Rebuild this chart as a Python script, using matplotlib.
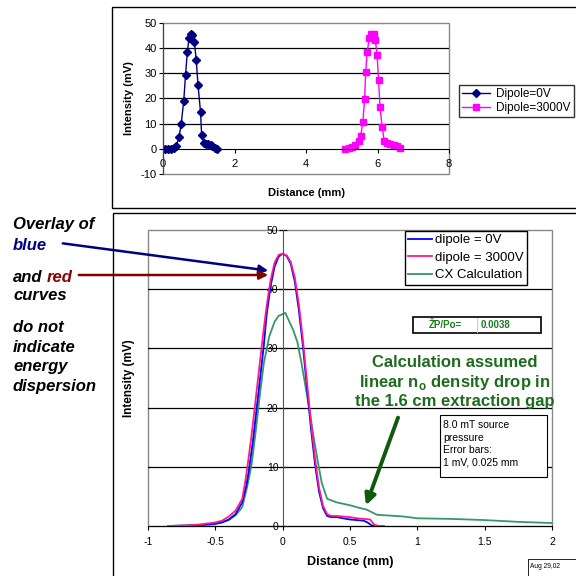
import matplotlib
matplotlib.use("Agg")
import matplotlib.pyplot as plt
from matplotlib.patches import Rectangle, FancyArrowPatch

plt.rcParams['font.family'] = ['Liberation Sans', 'DejaVu Sans']
plt.rcParams['axes.unicode_minus'] = False

# top chart: raw scans, 3000V scan offset in distance
top_x0 = [-0.05, 0.05, 0.14, 0.23, 0.30, 0.37, 0.45, 0.51, 0.58, 0.63, 0.68, 0.73, 0.77,
          0.82, 0.88, 0.93, 0.98, 1.05, 1.08, 1.14, 1.20, 1.26, 1.33, 1.38, 1.45, 1.50]
top_y0 = [0, 0, 0, 0, 0.2, 1.2, 4.8, 10, 19, 29.3, 38.3, 44.2, 45.7,
          45.3, 42.3, 35.2, 25.2, 14.6, 5.6, 2.2, 2.0, 1.8, 1.6, 1.0, 0.4, 0]
top_x3 = [5.09, 5.19, 5.28, 5.37, 5.47, 5.53, 5.59, 5.64, 5.67, 5.71, 5.77, 5.82,
          5.89, 5.94, 5.99, 6.03, 6.07, 6.13, 6.19, 6.26, 6.36, 6.45, 6.54, 6.62]
top_y3 = [0, 0.2, 0.6, 1.4, 3.3, 5.1, 10.6, 19.7, 30.7, 38.3, 44.2, 45.8,
          45.7, 43.2, 37.1, 27.2, 16.7, 8.8, 3.0, 2.2, 2.0, 1.7, 1.2, 0.5]

# bottom chart: overlaid scans and CX calculation
d0_x = [-0.85, -0.7, -0.6, -0.5, -0.45, -0.4, -0.35, -0.3, -0.27, -0.25, -0.22, -0.2, -0.17,
        -0.14, -0.12, -0.09, -0.06, -0.03, 0, 0.03, 0.06, 0.09, 0.12, 0.15, 0.18, 0.21,
        0.24, 0.27, 0.3, 0.33, 0.36, 0.4, 0.45, 0.5, 0.55, 0.6, 0.63, 0.66, 0.7, 0.75]
d0_y = [0, 0.1, 0.2, 0.4, 0.6, 1.1, 2.0, 4.0, 6.8, 9.5, 14.5, 18.5, 24.5,
        30.5, 35.5, 40.5, 43.8, 45.5, 46, 45.6, 44.3, 41.3, 36.5, 30.5, 23.5, 16.5,
        10.5, 5.8, 3.0, 1.7, 1.5, 1.5, 1.3, 1.1, 1.0, 0.9, 0.6, 0.1, 0, 0]
d3_x = [-0.85, -0.7, -0.6, -0.5, -0.45, -0.4, -0.35, -0.3, -0.28, -0.26, -0.23, -0.21, -0.18,
        -0.15, -0.12, -0.09, -0.06, -0.03, 0, 0.03, 0.06, 0.09, 0.12, 0.15, 0.18, 0.21,
        0.24, 0.27, 0.3, 0.33, 0.36, 0.4, 0.45, 0.5, 0.55, 0.6, 0.65, 0.68, 0.72, 0.75]
d3_y = [0, 0.1, 0.3, 0.6, 0.9, 1.6, 2.6, 4.6, 7.2, 10.3, 15.5, 19.5, 25.5,
        31.5, 37, 41.5, 44.5, 45.8, 46, 45.7, 44.6, 42, 37.5, 31.5, 24.5, 17.5,
        11.5, 6.5, 3.4, 2.0, 1.7, 1.7, 1.6, 1.5, 1.3, 1.2, 1.1, 0.2, 0, 0]
cx_x = [-0.8, -0.6, -0.5, -0.4, -0.35, -0.3, -0.26, -0.23, -0.2, -0.17, -0.14, -0.1, -0.06,
        -0.03, 0.02, 0.05, 0.08, 0.11, 0.14, 0.17, 0.2, 0.23, 0.26, 0.29, 0.33, 0.4, 0.5,
        0.58, 0.62, 0.7, 0.9, 1.0, 1.25, 1.5, 1.75, 2.0]
cx_y = [0, 0.1, 0.3, 1.0, 1.8, 3.2, 7.0, 10.5, 16, 22, 27.5, 32, 34.5,
        35.5, 36, 34.5, 33, 31, 27.5, 23.5, 19.5, 15, 11, 7.3, 4.6, 4.0, 3.5,
        3.0, 2.8, 1.9, 1.6, 1.3, 1.2, 1.0, 0.7, 0.5]

W = 576
fig = plt.figure(figsize=(5.76, 5.76), dpi=100)


def px(x0, y0, x1, y1):
    return [x0 / W, 1 - y1 / W, (x1 - x0) / W, (y1 - y0) / W]


def excel_frame(ax):
    for s in ['top', 'right']:
        ax.spines[s].set_visible(False)
    ax.spines['left'].set_position(('data', 0))
    ax.spines['bottom'].set_position(('data', 0))
    ax.spines['left'].set_color('#444444')
    ax.spines['bottom'].set_color('black')
    ax.add_patch(Rectangle((0, 0), 1, 1, transform=ax.transAxes, fill=False,
                           edgecolor='#888888', lw=1, clip_on=False, zorder=0.5))
    for v in [10, 20, 30, 40]:
        ax.axhline(v, color='black', lw=0.9, zorder=0.6)


###### top chart
ax1 = fig.add_axes(px(163, 23, 449, 174))
excel_frame(ax1)
ax1.plot(top_x0, top_y0, color='#000080', marker='D', ms=3.8, lw=1, label='Dipole=0V')
ax1.plot(top_x3, top_y3, color='#ff00ff', marker='s', ms=5, lw=1, label='Dipole=3000V')
ax1.set_xlim(0, 8)
ax1.set_ylim(-10, 50)
ax1.set_xticks([0, 2, 4, 6, 8])
ax1.set_yticks([-10, 0, 10, 20, 30, 40, 50])
ax1.tick_params(labelsize=8, length=3, width=0.8, pad=1.5)
ax1.tick_params(axis='x', pad=4)
ax1.set_ylabel('Intensity (mV)', fontsize=8, fontweight='bold')
ax1.yaxis.set_label_coords(-0.10, 0.5)
ax1.set_xlabel('Distance (mm)', fontsize=8, fontweight='bold')
ax1.xaxis.set_label_coords(0.5, -0.095)
fig.legend(loc='upper left', bbox_to_anchor=(459 / W, 1 - 85 / W), fontsize=8.5,
           frameon=True, fancybox=False, edgecolor='black', handlelength=2.4,
           borderpad=0.25, labelspacing=0.15, handletextpad=0.5, borderaxespad=0)

###### bottom chart
ax2 = fig.add_axes(px(148, 230, 552, 526))
excel_frame(ax2)
ax2.spines['left'].set_color('#555555')
ax2.plot(d0_x, d0_y, color='#0000ff', lw=1.3, label='dipole = 0V', zorder=3)
ax2.plot(d3_x, d3_y, color='#ff1a8c', lw=1.3, label='dipole = 3000V', zorder=3)
ax2.plot(cx_x, cx_y, color='#339966', lw=1.3, label='CX Calculation', zorder=2)
ax2.set_xlim(-1, 2)
ax2.set_ylim(0, 50)
ax2.set_xticks([-1, -0.5, 0, 0.5, 1, 1.5, 2])
ax2.set_xticklabels(['-1', '-0.5', '0', '0.5', '1', '1.5', '2'])
ax2.set_yticks([0, 10, 20, 30, 40, 50])
ax2.tick_params(axis='y', direction='inout', length=6, width=0.8, labelsize=7.5, pad=0)
ax2.tick_params(axis='x', direction='out', length=3, width=0.8, labelsize=7.5, pad=5)
ax2.set_ylabel('Intensity (mV)', fontsize=8.5, fontweight='bold')
ax2.yaxis.set_label_coords(-0.033, 0.5)
ax2.set_xlabel('Distance (mm)', fontsize=9, fontweight='bold')
ax2.xaxis.set_label_coords(0.5, -0.103)
ax2.legend(loc='upper left', bbox_to_anchor=(0.636, 0.997), fontsize=9.5,
           frameon=True, fancybox=False, edgecolor='black', framealpha=1,
           handlelength=1.8, handletextpad=0.25, borderpad=0.25, labelspacing=0.4,
           borderaxespad=0)

###### overlay: boxes, notes and arrows in pixel coords
ov = fig.add_axes([0, 0, 1, 1], zorder=10)
ov.set_xlim(0, W)
ov.set_ylim(W, 0)
ov.axis('off')
ov.patch.set_alpha(0)

ov.add_patch(Rectangle((112, 7), 470, 201, fill=False, edgecolor='black', lw=1))
ov.add_patch(Rectangle((113, 213), 470, 370, fill=False, edgecolor='black', lw=1))

notes = [('Overlay of', 225, 'black'), ('blue', 245, '#000080'), ('and', 277, 'black'),
         ('curves', 296, 'black'), ('do not', 327, 'black'), ('indicate', 347, 'black'),
         ('energy', 367, 'black'), ('dispersion', 387, 'black')]
for txt, yy, col in notes:
    ov.text(13, yy, txt, fontsize=12, fontweight='bold', fontstyle='italic',
            color=col, va='center', ha='left')
ov.text(47, 277, 'red', fontsize=12, fontweight='bold', fontstyle='italic',
        color='#8b0000', va='center', ha='left')

ov.add_patch(FancyArrowPatch((60, 243), (271, 271), arrowstyle='-|>', mutation_scale=13,
                             color='#000080', lw=1.8))
ov.add_patch(FancyArrowPatch((76, 275), (271, 275), arrowstyle='-|>', mutation_scale=13,
                             color='#800000', lw=1.8))

# dP/Po box
ov.add_patch(Rectangle((413, 317), 128, 16, fill=True, facecolor='white',
                       edgecolor='black', lw=1.2))
ov.plot([477, 477], [318, 332], color='#cccccc', lw=0.8)
ov.text(445, 325, 'ŽP/Po=', fontsize=7, fontweight='bold', color='#1e7b1e',
        ha='center', va='center')
ov.text(481, 325, '0.0038', fontsize=7, fontweight='bold', color='#1e7b1e',
        ha='left', va='center')

ov.text(455, 382, 'Calculation assumed\nlinear n$_\\mathregular{o}$ density drop in\n'
        'the 1.6 cm extraction gap', fontsize=12, fontweight='bold', color='#1e6b1e',
        ha='center', va='center', linespacing=1.2)

ov.add_patch(Rectangle((440, 415), 107, 62, fill=True, facecolor='white',
                       edgecolor='black', lw=0.8))
ov.text(443, 420, '8.0 mT source\npressure\nError bars:\n1 mV, 0.025 mm', fontsize=7.5,
        ha='left', va='top', linespacing=1.32)

ov.add_patch(FancyArrowPatch((399, 415), (365, 508), arrowstyle='-|>', mutation_scale=16,
                             color='#0f5a0f', lw=2.8))

ov.add_patch(Rectangle((528, 559), 50, 20, fill=False, edgecolor='black', lw=0.6))
ov.text(530, 567, 'Aug 29,02', fontsize=4.8, ha='left', va='center')

fig.savefig('out.png', dpi=100)
